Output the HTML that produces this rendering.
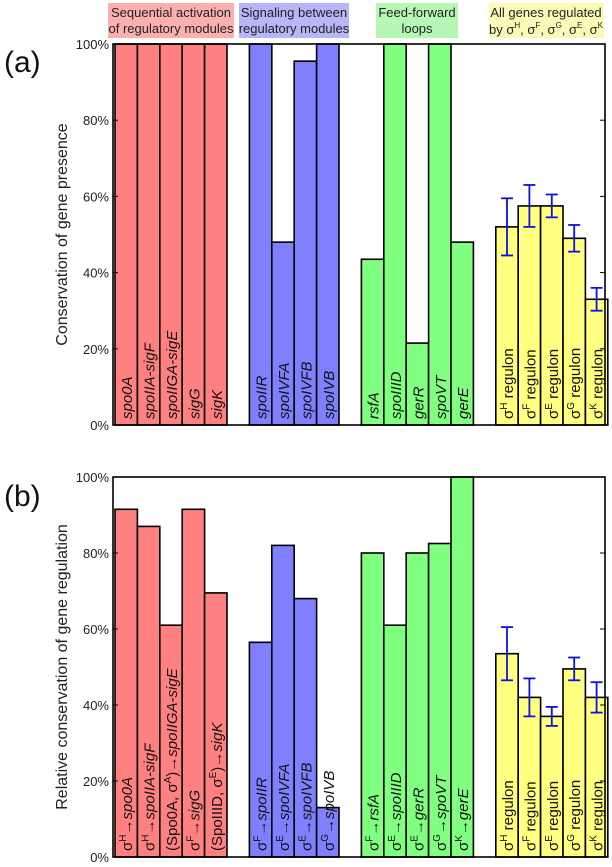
<!DOCTYPE html>
<html><head><meta charset="utf-8"><style>
body{margin:0;background:#fff}
svg{display:block;font-family:"Liberation Sans","DejaVu Sans",sans-serif}
</style></head><body>
<svg id="fig" width="612" height="867" viewBox="0 0 612 867" xmlns="http://www.w3.org/2000/svg">
<g font-size="13" text-anchor="middle" fill="#222">
<rect x="108" y="3" width="126" height="35" fill="#fbb0b0"/>
<text x="171" y="17">Sequential activation</text><text x="171" y="33">of regulatory modules</text>
<rect x="239" y="3" width="110" height="35" fill="#b6b6f8"/>
<text x="294" y="17">Signaling between</text><text x="294" y="33">regulatory modules</text>
<rect x="376" y="3" width="82" height="35" fill="#b5f7b5"/>
<text x="417" y="17">Feed-forward</text><text x="417" y="33">loops</text>
<rect x="489" y="3" width="115" height="35" fill="#fbfbb8"/>
<text x="546" y="17">All genes regulated</text>
<text x="546" y="34">by σ<tspan font-size="8" dy="-6">H</tspan><tspan dy="6">, σ</tspan><tspan font-size="8" dy="-6">F</tspan><tspan dy="6">, σ</tspan><tspan font-size="8" dy="-6">G</tspan><tspan dy="6">, σ</tspan><tspan font-size="8" dy="-6">E</tspan><tspan dy="6">, σ</tspan><tspan font-size="8" dy="-6">K</tspan></text>
</g>
<text x="4" y="72" font-size="30" fill="#111">(a)</text>
<text x="4" y="506" font-size="30" fill="#111">(b)</text>
<g id="pa"></g>
<g id="pb"></g>
</svg>
<script>
const slotsA = [0,1,2,3,4, 6,7,8,9, 11,12,13,14,15, 17,18,19,20,21];
const colorsGroup = ['r','r','r','r','r','b','b','b','b','g','g','g','g','g','y','y','y','y','y'];
const valuesA = [100,100,100,100,100, 100,48,95.5,100, 43.5,100,21.5,100,48, 52,57.5,57.5,49,33];
const errA = [0,0,0,0,0, 0,0,0,0, 0,0,0,0,0, 7.5,5.5,3,3.5,3];
const labelsA = ['_spo0A_','_spoIIA-sigF_','_spoIIGA-sigE_','_sigG_','_sigK_','_spoIIR_','_spoIVFA_','_spoIVFB_','_spoIVB_','_rsfA_','_spoIIID_','_gerR_','_spoVT_','_gerE_','σ^H regulon','σ^F regulon','σ^E regulon','σ^G regulon','σ^K regulon'];
const valuesB = [91.5,87,61,91.5,69.5, 56.5,82,68,13, 80,61,80,82.5,100, 53.5,42,37,49.5,42];
const errB = [0,0,0,0,0, 0,0,0,0, 0,0,0,0,0, 7,5,2.5,3,4];
const labelsB = ['σ^H→_spo0A_','σ^H→_spoIIA-sigF_','(Spo0A, σ^A)→_spoIIGA-sigE_','σ^F→_sigG_','(SpoIIID, σ^E)→_sigK_','σ^F→_spoIIR_','σ^E→_spoIVFA_','σ^E→_spoIVFB_','σ^G→_spoIVB_','σ^F→_rsfA_','σ^E→_spoIIID_','σ^E→_gerR_','σ^G→_spoVT_','σ^K→_gerE_','σ^H regulon','σ^F regulon','σ^E regulon','σ^G regulon','σ^K regulon'];
const tickLabels = ['0%','20%','40%','60%','80%','100%'];
const tickValues = [0,20,40,60,80,100];
const fills = {r:'#ff8080',b:'#8080ff',g:'#80ff80',y:'#ffff80'};
const NS='http://www.w3.org/2000/svg';
const X0=113, X1=605, SW=22.4;
function mk(tag,attrs,parent){const e=document.createElementNS(NS,tag);for(const k in attrs)e.setAttribute(k,attrs[k]);parent.appendChild(e);return e;}
function fill(t,s){
  // tokens: ^X superscript, _..._ italic
  let italic=false, i=0, buf='', raised=false;
  const flush=(sup)=>{
    if(!buf && !sup) return;
    const a={};
    if(italic) a['font-style']='italic';
    if(sup){a['font-size']=10;a.dy=-6;raised=true;}
    else if(raised){a.dy=6;raised=false;}
    const ts=mk('tspan',a,t); ts.textContent=sup?sup:buf; buf='';
  };
  while(i<s.length){
    const c=s[i];
    if(c==='_'){flush();italic=!italic;i++;}
    else if(c==='^'){flush();flush(s[i+1]);i+=2;}
    else {buf+=c;i++;}
  }
  flush();
}
function panel(g,yTop,yBot,vals,errs,labels,ytitle,id){
  const y=v=>yBot-(yBot-yTop)*v/100;
  const x=s=>X0+2+s*SW;
  vals.forEach((v,i)=>{
    const r=mk('rect',{x:x(slotsA[i]),y:y(v),width:SW,height:yBot-y(v),fill:fills[colorsGroup[i]],stroke:'#000','stroke-width':1.6},g);
    
    
  });
  vals.forEach((v,i)=>{
    const cx=x(slotsA[i])+SW/2;
    const t=mk('text',{x:0,y:0,transform:`translate(${cx+6},${yBot-6}) rotate(-90)`,'font-size':15,fill:'#111'},g);
    fill(t,labels[i]);
    
    
    if(errs[i]>0){
      const e=mk('g',{stroke:'#1010e0','stroke-width':1.8},g);
      
      
      mk('line',{x1:cx,x2:cx,y1:y(v+errs[i]),y2:y(v-errs[i])},e);
      mk('line',{x1:cx-6,x2:cx+6,y1:y(v+errs[i]),y2:y(v+errs[i])},e);
      mk('line',{x1:cx-6,x2:cx+6,y1:y(v-errs[i]),y2:y(v-errs[i])},e);
    }
  });
  const fr=mk('rect',{x:X0,y:yTop,width:X1-X0,height:yBot-yTop,fill:'none',stroke:'#000','stroke-width':1.6},g);
  
  
  tickValues.forEach((tv,i)=>{
    const yy=y(tv);
    mk('line',{x1:X0,x2:X0+5,y1:yy,y2:yy,stroke:'#000'},g);
    mk('line',{x1:X1-5,x2:X1,y1:yy,y2:yy,stroke:'#000'},g);
    const t=mk('text',{x:X0-4,y:yy+5,'text-anchor':'end','font-size':13,fill:'#222'},g);
    t.textContent=tickLabels[i];
    
    
  });
  const yt=mk('text',{transform:`translate(67,${(yTop+yBot)/2}) rotate(-90)`,'text-anchor':'middle','font-size':16,fill:'#222'},g);
  yt.textContent=ytitle;
  
  
}
panel(document.getElementById('pa'),44,425,valuesA,errA,labelsA,'Conservation of gene presence','a');
panel(document.getElementById('pb'),477,857,valuesB,errB,labelsB,'Relative conservation of gene regulation','b');
</script>
</body></html>
